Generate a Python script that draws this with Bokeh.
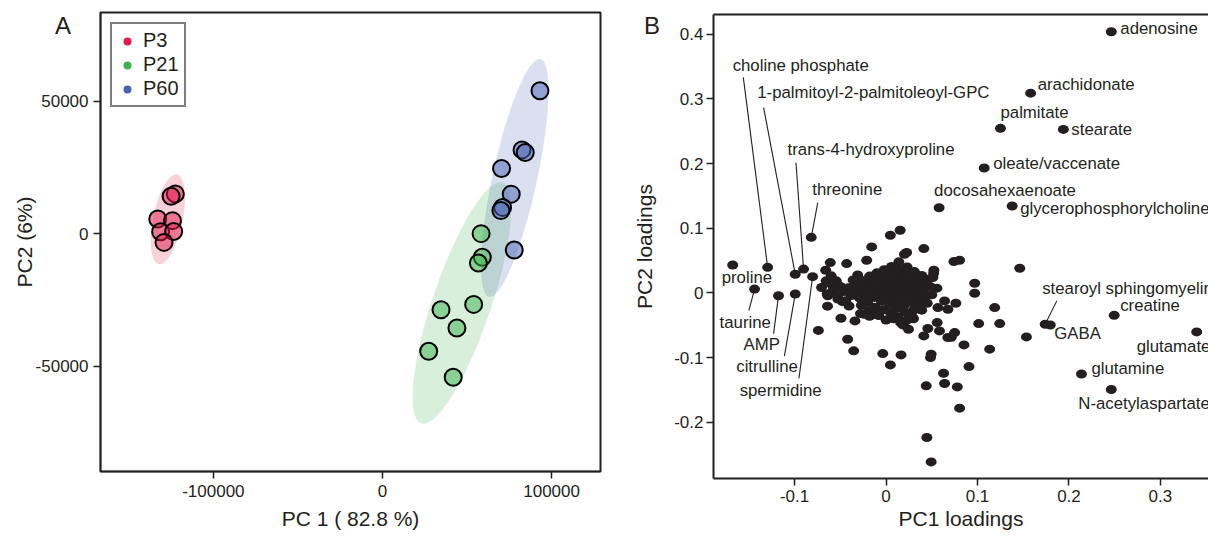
import numpy as np
from bokeh.plotting import figure
from bokeh.models import (ColumnDataSource, Range1d, FixedTicker, Legend, LegendItem, Div,
                          LinearAxis)
from bokeh.layouts import row, column
from bokeh.embed import file_html
from bokeh.resources import INLINE
from bokeh.core.properties import value

# ---------------- Panel A data (PCA scores) ----------------
groups = ["P3", "P21", "P60"]
p3_pc1 = [-122500, -125000, -132900, -124200, -131200, -123500, -129200]
p3_pc2 = [15100, 14200, 5600, 5000, 800, 900, -3200]
p21_pc1 = [58300, 59000, 56700, 53900, 34600, 44000, 27300, 41800]
p21_pc2 = [100, -8800, -11000, -26600, -28600, -35500, -44300, -54100]
p60_pc1 = [93100, 82500, 84400, 70400, 76100, 71000, 70000, 77900]
p60_pc2 = [54000, 31700, 30700, 24700, 15000, 10000, 8800, -6100]
a_xticks = [-100000, 0, 100000]
a_xlabels = ["-100000", "0", "100000"]
a_yticks = [-50000, 0, 50000]
a_ylabels = ["-50000", "0", "50000"]
panel_tags = ["A", "B"]

# ---------------- Panel B data (PCA loadings) ----------------
lab_names = ["adenosine", "arachidonate", "palmitate", "stearate", "oleate/vaccenate",
             "docosahexaenoate", "glycerophosphorylcholine", "threonine", "choline phosphate",
             "1-palmitoyl-2-palmitoleoyl-GPC", "trans-4-hydroxyproline", "proline", "taurine",
             "AMP", "citrulline", "spermidine", "stearoyl sphingomyelin", "GABA", "creatine",
             "glutamate", "glutamine", "N-acetylaspartate"]
lab_pc1 = [0.2463, 0.1581, 0.1251, 0.1939, 0.1073, 0.0580, 0.1379, -0.0818, -0.1295,
           -0.0993, -0.0902, -0.1677, -0.1438, -0.1176, -0.0993, -0.0803, 0.1740, 0.1796,
           0.2495, 0.3397, 0.2137, 0.2463]
lab_pc2 = [0.4037, 0.3088, 0.2544, 0.2528, 0.1931, 0.1317, 0.1344, 0.0859, 0.0395,
           0.0288, 0.0368, 0.0432, 0.0059, -0.0043, -0.0016, 0.0251, -0.0485, -0.0496,
           -0.0347, -0.0603, -0.1253, -0.1493]
# label offsets (screen px, relative to the point)
lab_dx = [9, 7, 0, 8, 9, -5, 8, 1, -35, -38, -16, -11, -35, -35, -59, -73, -3, 4, 6, -60, 10, -33]
lab_dy = [-3, -9, -16, 0, -5, -17, 3, -48, -202, -182, -120, 13, 33, 49, 73, 114, -36, 9, -10, 15, -5, 14]

# leader lines: start near the label, end at the labelled point
lead_names = ["choline phosphate", "1-palmitoyl-2-palmitoleoyl-GPC", "trans-4-hydroxyproline",
              "threonine", "taurine", "AMP", "citrulline", "spermidine", "stearoyl sphingomyelin"]
lead_x0 = [-0.1561, -0.1339, -0.0985, -0.0747, -0.1500, -0.1230, -0.1112, -0.0953, 0.1867]
lead_y0 = [0.3333, 0.2864, 0.2011, 0.1397, -0.0270, -0.0630, -0.0976, -0.1323, -0.0123]

other_pc1 = [0.0047, 0.0154, -0.0157, 0.0413, 0.0201, 0.0225, -0.0212, -0.0431, -0.0610, 0.0742,
             0.0804, 0.1462, -0.0660, -0.0310, 0.0523, 0.0512, 0.0969, 0.0969, 0.1188, 0.1013,
             0.1243, 0.1535, -0.0740, -0.0493, -0.0640, -0.0420, -0.0354, -0.0036, 0.0164, 0.0047,
             0.0493, 0.0486, 0.0852, 0.0907, 0.1133, 0.0629, 0.0439, 0.0640, 0.0779, 0.0804,
             0.0446, 0.0493, 0.0676, 0.0713, 0.0457, 0.0750, 0.0567, 0.0640, 0.0676, 0.0556,
             -0.0705, 0.0183, 0.0245, 0.0293, 0.0413, 0.0559, 0.0584, -0.0340, -0.0238, -0.0128,
             -0.0644, -0.0477, -0.0405, 0.0390, 0.0763, -0.0655, -0.0600, -0.0545, -0.0637, -0.0527,
             -0.0545, -0.0600,
             # dense cluster around the origin
             -0.058, -0.050, -0.046, -0.041, -0.038, -0.034, -0.031, -0.029, -0.026, -0.024,
             -0.022, -0.020, -0.018, -0.017, -0.015, -0.013, -0.012, -0.010, -0.009, -0.007,
             -0.006, -0.005, -0.003, -0.002, 0.000, 0.001, 0.002, 0.003, 0.004, 0.005,
             0.006, 0.007, 0.008, 0.009, 0.010, 0.011, 0.012, 0.013, 0.014, 0.015,
             0.016, 0.017, 0.018, 0.019, 0.020, 0.021, 0.022, 0.023, 0.024, 0.025,
             0.026, 0.027, 0.028, 0.030, 0.031, 0.032, 0.033, 0.034, 0.036, 0.037,
             0.039, 0.040, 0.041, 0.043, 0.045, 0.046, 0.048, 0.050, 0.052, -0.027,
             -0.019, -0.008, 0.000, 0.016, 0.026, -0.044, -0.036, -0.053, -0.028, -0.018,
             0.008, 0.030]
other_pc2 = [0.0892, 0.0969, 0.0711, 0.0685, 0.0598, 0.0625, 0.0505, 0.0453, 0.0469, 0.0484,
             0.0505, 0.0381, 0.0351, 0.0278, 0.0351, 0.0237, 0.0150, -0.0005, -0.0227, -0.0474,
             -0.0474, -0.0680, -0.0580, -0.0391, -0.0205, -0.0716, -0.0896, -0.0938, -0.0958, -0.1113,
             -0.0948, -0.1000, -0.0804, -0.1139, -0.0870, -0.1242, -0.1437, -0.1401, -0.1453, -0.1782,
             -0.2236, -0.2612, -0.0690, -0.0685, -0.0550, -0.0613, -0.0227, -0.0124, -0.0252, 0.0073,
             0.0084, -0.0495, -0.0561, -0.0381, -0.0665, -0.0459, -0.0587, -0.0433, -0.0330, -0.0330,
             -0.0016, -0.0133, -0.0203, -0.0267, -0.0160, 0.0187, 0.0136, 0.0187, -0.0045, -0.0096,
             0.0161, 0.0264,
             0.004, 0.010, 0.002, 0.008, -0.004, 0.014, 0.003, -0.008, 0.019, 0.009,
             -0.002, -0.014, 0.026, 0.015, 0.004, -0.007, -0.022, 0.031, 0.020, 0.010,
             -0.001, -0.013, -0.026, 0.036, 0.025, 0.015, 0.004, -0.006, -0.018, -0.031,
             0.041, 0.030, 0.020, 0.009, -0.002, -0.012, -0.024, -0.037, 0.048, 0.036,
             0.025, 0.014, 0.003, -0.008, -0.019, -0.030, -0.043, 0.040, 0.029, 0.018,
             0.007, -0.004, -0.015, -0.027, 0.033, 0.022, 0.011, 0.000, -0.011, -0.021,
             0.027, 0.016, 0.005, -0.006, -0.016, 0.021, 0.010, -0.003, 0.030, -0.019,
             -0.027, -0.035, -0.042, -0.046, -0.036, -0.012, 0.020, -0.004, -0.032, -0.036,
             -0.040, -0.040]
b_xticks = [-0.1, 0, 0.1, 0.2, 0.3]
b_xlabels = ["-0.1", "0", "0.1", "0.2", "0.3"]
b_yticks = [-0.2, -0.1, 0, 0.1, 0.2, 0.3, 0.4]
b_ylabels = ["-0.2", "-0.1", "0", "0.1", "0.2", "0.3", "0.4"]

# ---------------- styles ----------------
FONT = "Liberation Sans"
INK = "#231F20"
colors = ["#E31A4C", "#3CB44B", "#4A62B5"]


def conf_ellipse(x, y, n=160):
    """95% confidence ellipse (chi-square, 2 dof) of a point group."""
    x = np.asarray(x, float)
    y = np.asarray(y, float)
    vals, vecs = np.linalg.eigh(np.cov(x, y))
    t = np.linspace(0, 2 * np.pi, n)
    circ = np.vstack([np.cos(t), np.sin(t)]) * np.sqrt(5.991)
    pts = vecs @ (np.sqrt(vals)[:, None] * circ)
    return x.mean() + pts[0], y.mean() + pts[1]


def style_axis(ax, ticks, labels, standoff_label, standoff_title, lw=1.5):
    ax.ticker = FixedTicker(ticks=ticks)
    ax.major_label_overrides = {t: s for t, s in zip(ticks, labels)}
    ax.major_tick_in = 0
    ax.major_tick_out = 7
    ax.major_tick_line_width = 1.5
    ax.major_tick_line_color = INK
    ax.minor_tick_line_color = None
    ax.axis_line_width = lw
    ax.axis_line_color = INK
    ax.major_label_text_font = FONT
    ax.major_label_text_font_size = "17px"
    ax.major_label_text_color = INK
    ax.major_label_standoff = standoff_label
    ax.axis_label_text_font = FONT
    ax.axis_label_text_font_size = "21px"
    ax.axis_label_text_font_style = "normal"
    ax.axis_label_text_color = INK
    ax.axis_label_standoff = standoff_title


# ---------------- Panel A ----------------
pa = figure(width=620, height=541, output_backend="svg", toolbar_location=None,
            x_range=Range1d(-166750, 128900), y_range=Range1d(-89660, 83550),
            min_border_left=100, min_border_right=20, min_border_top=12, min_border_bottom=70)
pa.frame_align = False
pa.grid.visible = False
pa.outline_line_color = INK
pa.outline_line_width = 2
pa.outline_line_alpha = 1
pa.xaxis.axis_label = "PC 1 ( 82.8 %)"
pa.yaxis.axis_label = "PC2 (6%)"
style_axis(pa.xaxis[0], a_xticks, a_xlabels, 6, 7)
style_axis(pa.yaxis[0], a_yticks, a_ylabels, 5, -3)

group_x = [p3_pc1, p21_pc1, p60_pc1]
group_y = [p3_pc2, p21_pc2, p60_pc2]
for gx, gy, c in zip(group_x, group_y, colors):
    ex, ey = conf_ellipse(gx, gy)
    pa.patch(ex, ey, fill_color=c, fill_alpha=0.2, line_color=None)
for gx, gy, c in zip(group_x, group_y, colors):
    pa.scatter(gx, gy, size=17, fill_color=c, fill_alpha=0.5, line_color="black", line_width=2)

items = []
for g, c in zip(groups, colors):
    # legend-only renderer (no drawable point in the plot)
    r = pa.scatter(x=[np.nan], y=[np.nan], size=8, fill_color=c, line_color=None)
    items.append(LegendItem(label=g, renderers=[r]))
legend = Legend(items=items, location=(10, 364), border_line_color="black", border_line_width=2,
                label_text_font=FONT, label_text_font_size="20px", label_text_color=INK,
                glyph_width=20, glyph_height=22, label_height=22, spacing=1, padding=5,
                margin=0, label_standoff=6, background_fill_alpha=1)
pa.add_layout(legend)

# ---------------- Panel B ----------------
pb = figure(width=588, height=541, output_backend="svg", toolbar_location=None,
            x_range=Range1d(-0.1887, 0.3526), y_range=Range1d(-0.2869, 0.4304),
            min_border_left=93, min_border_right=0, min_border_top=14, min_border_bottom=63)
pb.frame_align = False
pb.grid.visible = False
pb.outline_line_color = None
pb.xaxis.axis_label = "PC1 loadings"
pb.yaxis.axis_label = "PC2 loadings"
style_axis(pb.xaxis[0], b_xticks, b_xlabels, 4, 2, lw=2)
style_axis(pb.yaxis[0], b_yticks, b_ylabels, 3, 15, lw=2)
top = LinearAxis(ticker=FixedTicker(ticks=[]), major_tick_line_color=None,
                 minor_tick_line_color=None, major_tick_out=0, major_tick_in=0,
                 major_label_standoff=0, axis_line_width=2, axis_line_color=INK)
pb.add_layout(top, "above")

lead_x1 = [lab_pc1[lab_names.index(n)] for n in lead_names]
lead_y1 = [lab_pc2[lab_names.index(n)] for n in lead_names]
pb.segment(lead_x0, lead_y0, lead_x1, lead_y1, line_color=INK, line_width=1.1)

all_x = other_pc1 + lab_pc1
all_y = other_pc2 + lab_pc2
pb.ellipse(all_x, all_y, width=11, height=9, width_units="screen", height_units="screen",
           fill_color=INK, line_color=None)

src = ColumnDataSource(dict(x=lab_pc1, y=lab_pc2, t=lab_names, dx=lab_dx, dy=lab_dy))
pb.text(x="x", y="y", text="t", x_offset="dx", y_offset="dy", source=src,
        text_font=value(FONT), text_font_size="16.8px", text_color=INK,
        text_align="left", text_baseline="middle")

# panel letters (overlay, outside the plot frames)
tag_css = ("position:absolute; font-family:'Liberation Sans'; font-size:24px; "
           "line-height:1; color:#231F20;")
tags = Div(text=(f'<div style="{tag_css} left:50px; top:9px;">{panel_tags[0]}</div>'
                 f'<div style="{tag_css} left:639px; top:9px;">{panel_tags[1]}</div>'),
           width=1208, height=0,
           styles={"position": "absolute", "left": "0px", "top": "0px",
                   "overflow": "visible", "z-index": "10"})

layout = column(row(pa, pb, spacing=0), tags, spacing=0)
open("out.html", "w").write(file_html(layout, INLINE))
